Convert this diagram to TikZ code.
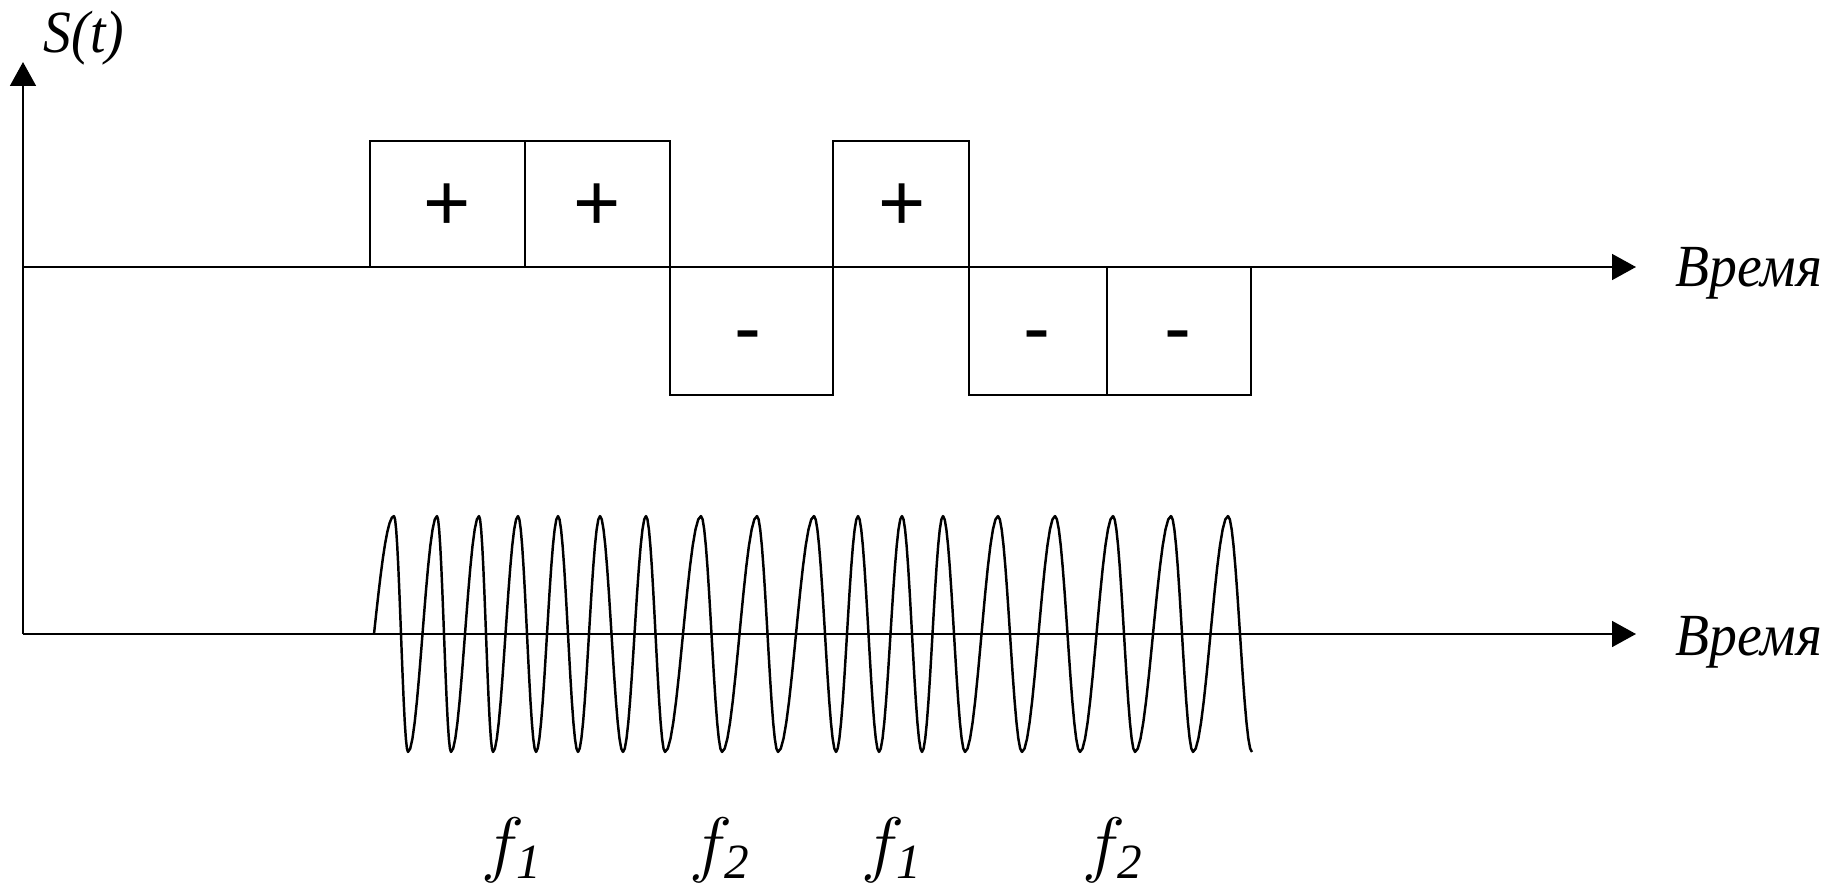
\documentclass[tikz,border=0pt]{standalone}
\usepackage{fontspec}
\setmainfont{Liberation Serif}
\newfontfamily\signfont{Liberation Sans}
\usetikzlibrary{arrows.meta}
\tikzset{
  axis/.style={line width=0.7pt, -{Triangle[length=6.8pt,width=7.3pt]}},
  bitbox/.style={line width=0.7pt},
  sign/.style={inner sep=0pt, anchor=base, font=\signfont\fontsize{23}{25}\selectfont},
  lbl/.style={inner sep=0pt, anchor=base west, font=\itshape\fontsize{17}{20}\selectfont},
  flbl/.style={inner sep=0pt, anchor=base, font=\fontsize{21}{23}\selectfont},
  wave/.style={line width=0.7pt, line join=round}
}
\newcommand{\fsub}[1]{$f$\kern-2.2pt\raisebox{-3.1pt}{\fontsize{14}{16}\selectfont\itshape #1}}
\newcommand{\narrow}[1]{\scalebox{0.93}[1]{#1}}
\begin{document}
\begin{tikzpicture}[x=0.01cm, y=-0.01cm]
\useasboundingbox (0,0) rectangle (1833,888);
% axes
\coordinate (O) at (23,634);
\coordinate (Ytip) at (23,62);
\coordinate (A1s) at (23,267);
\coordinate (A1e) at (1636,267);
\coordinate (A2e) at (1636,634);
\draw[axis] (O) -- (Ytip);
\draw[axis] (A1s) -- (A1e);
\draw[axis] (O) -- (A2e);
\node[lbl] (St) at (43,53) {\narrow{S(t)}};
\node[lbl] (t1) at (1675,287) {\narrow{Время}};
\node[lbl] (t2) at (1675,655) {\narrow{Время}};
% bit boxes
\draw[bitbox] (370,141) rectangle (525,267);
\draw[bitbox] (525,141) rectangle (670,267);
\draw[bitbox] (670,267) rectangle (833,395);
\draw[bitbox] (833,141) rectangle (969,267);
\draw[bitbox] (969,267) rectangle (1107,395);
\draw[bitbox] (1107,267) rectangle (1251,395);
\node[sign] (s1) at (447.5,231) {+};
\node[sign] (s2) at (597.5,231) {+};
\node[sign] (s3) at (748,355) {-};
\node[sign] (s4) at (902,231) {+};
\node[sign] (s5) at (1037,355) {-};
\node[sign] (s6) at (1178,355) {-};
% FSK wave
\draw[wave] (374,634)
  -- plot[domain=374:394,samples=10] (\x,{634-118*sin(90*(\x-374)/20)})
  \foreach \a/\b/\s in {394/408/1, 408/437/-1, 437/451/1, 451/479/-1, 479/493/1, 493/518/-1,
    518/536/1, 536/558/-1, 558/578/1, 578/600/-1, 600/623/1, 623/646/-1, 646/665/1, 665/701/-1,
    701/722/1, 722/757/-1, 757/778/1, 778/814/-1, 814/836/1, 836/858/-1, 858/879/1, 879/902/-1,
    902/922/1, 922/943/-1, 943/965/1, 965/998/-1, 998/1022/1, 1022/1055/-1, 1055/1080/1,
    1080/1113/-1, 1113/1135/1, 1135/1171/-1, 1171/1193/1, 1193/1228/-1, 1228/1252/1}
  { -- plot[domain=\a:\b,samples=14] (\x,{634-\s*118*cos(180*(\x-\a)/(\b-\a))}) };
% frequency labels
\node[flbl] (f1a) at (511,868) {\fsub{1}};
\node[flbl] (f2a) at (719,868) {\fsub{2}};
\node[flbl] (f1b) at (891,868) {\fsub{1}};
\node[flbl] (f2b) at (1112,868) {\fsub{2}};
\end{tikzpicture}
\end{document}
